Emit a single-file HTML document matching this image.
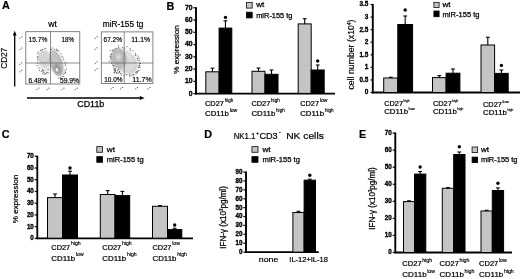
<!DOCTYPE html><html><head><meta charset="utf-8"><title>figure</title>
<style>html,body{margin:0;padding:0;background:#fff}svg{display:block;opacity:0.999;font-family:'Liberation Sans', sans-serif}</style></head><body>
<svg width="520" height="279" viewBox="0 0 520 279">
<defs><filter id="b1" x="-30%" y="-30%" width="160%" height="160%"><feGaussianBlur stdDeviation="1.6"/></filter><filter id="b2" x="-30%" y="-30%" width="160%" height="160%"><feGaussianBlur stdDeviation="0.9"/></filter><filter id="b3" x="-30%" y="-30%" width="160%" height="160%"><feGaussianBlur stdDeviation="0.45"/></filter></defs>
<rect width="520" height="279" fill="#fff"/>
<text x="2.1" y="9.4" font-size="10.8" font-weight="bold" text-anchor="start" fill="#000" stroke="#000" stroke-width="0.2" >A</text>
<text x="166.6" y="9.5" font-size="10.8" font-weight="bold" text-anchor="start" fill="#000" stroke="#000" stroke-width="0.2" >B</text>
<text x="1.8" y="138.4" font-size="10.8" font-weight="bold" text-anchor="start" fill="#000" stroke="#000" stroke-width="0.2" >C</text>
<text x="204.3" y="138.4" font-size="10.8" font-weight="bold" text-anchor="start" fill="#000" stroke="#000" stroke-width="0.2" >D</text>
<text x="359" y="138.4" font-size="10.8" font-weight="bold" text-anchor="start" fill="#000" stroke="#000" stroke-width="0.2" >E</text>
<ellipse cx="44.4" cy="62" rx="6.6" ry="11.5" transform="rotate(-6 44.4 62)" fill="#ececec" filter="url(#b2)"/>
<ellipse cx="56.4" cy="63.3" rx="6.6" ry="13.6" transform="rotate(-17 56.4 63.3)" fill="#e4e4e4" filter="url(#b2)"/>
<ellipse cx="44.6" cy="59.5" rx="6.0" ry="8.6" transform="rotate(-8 44.6 59.5)" fill="#d4d4d4" filter="url(#b2)"/>
<ellipse cx="44.3" cy="57.2" rx="5.6" ry="5.6" transform="rotate(0 44.3 57.2)" fill="none" stroke="#b0b0b0" stroke-width="0.5" filter="url(#b3)"/>
<ellipse cx="56.2" cy="63.3" rx="5.4" ry="12.6" transform="rotate(-17 56.2 63.3)" fill="#c4c4c4" filter="url(#b2)"/>
<ellipse cx="56.2" cy="63.3" rx="5.3" ry="12.4" transform="rotate(-17 56.2 63.3)" fill="none" stroke="#8e8e8e" stroke-width="0.7" filter="url(#b3)"/>
<ellipse cx="56.6" cy="65.0" rx="3.8" ry="9.2" transform="rotate(-17 56.6 65.0)" fill="none" stroke="#a8a8a8" stroke-width="0.5" filter="url(#b3)"/>
<ellipse cx="57.4" cy="68.6" rx="3.3" ry="5.6" transform="rotate(-17 57.4 68.6)" fill="#969696" filter="url(#b2)"/>
<ellipse cx="57.0" cy="69.8" rx="1.1" ry="1.9" transform="rotate(-17 57.0 69.8)" fill="#ffffff" filter="url(#b3)"/>
<path d="M47.7 72.9h.9M45.9 73.4h.9M44.7 74.0h.9M43.7 74.1h.9M42.3 73.3h.9M41.0 71.5h.9M38.9 70.6h.9M38.6 68.2h.9M36.7 65.7h.9M36.9 63.0h.9M37.2 59.8h.9M37.0 57.6h.9M37.4 56.8h.9M37.2 53.5h.9M38.3 52.1h.9M40.0 50.4h.9M41.4 50.2h.9M42.1 49.5h.9M44.3 48.8h.9M45.4 48.8h.9M49.8 51.8h.9M50.5 49.5h.9M51.1 49.4h.9M52.3 48.0h.9M54.1 49.4h.9M55.7 50.3h.9M56.2 49.1h.9M57.2 50.4h.9M58.4 51.0h.9M60.6 53.9h.9M61.6 56.3h.9M62.7 57.7h.9M63.3 59.7h.9M64.8 62.4h.9M64.8 63.9h.9M65.1 65.3h.9M65.8 69.2h.9M64.6 70.8h.9M65.0 72.4h.9M64.4 73.2h.9M63.3 74.2h.9M63.4 76.6h.9M61.9 76.4h.9M61.0 78.5h.9M59.9 77.6h.9M58.1 78.3h.9M46.7 72.5h.9M42.9 70.7h.9M43.5 72.5h.9M47.7 69.6h.9M42.2 69.9h.9M42.6 70.9h.9" stroke="#3a3a3a" stroke-width="0.9" fill="none"/>
<rect x="25.8" y="31.7" width="54.00" height="52.30" fill="none" stroke="#666" stroke-width="0.8"/>
<line x1="50.5" y1="31.7" x2="50.5" y2="84.0" stroke="#666" stroke-width="0.75"/>
<line x1="25.8" y1="63.0" x2="79.8" y2="63.0" stroke="#666" stroke-width="0.75"/>
<path d="M19.2 38.3h1.2M21.0 36.8h1.3" stroke="#666" stroke-width="1" fill="none"/>
<path d="M19.2 49.6h1.2M21.0 48.1h1.3" stroke="#666" stroke-width="1" fill="none"/>
<path d="M19.2 64.3h1.2M21.0 62.8h1.3" stroke="#666" stroke-width="1" fill="none"/>
<path d="M19.2 71.8h1.2M21.0 70.3h1.3" stroke="#666" stroke-width="1" fill="none"/>
<path d="M36.2 89.6h1.2M38.0 88.2h1.3" stroke="#666" stroke-width="1" fill="none"/>
<path d="M46.5 89.6h1.2M48.3 88.2h1.3" stroke="#666" stroke-width="1" fill="none"/>
<path d="M61.4 89.6h1.2M63.2 88.2h1.3" stroke="#666" stroke-width="1" fill="none"/>
<path d="M74.9 89.6h1.2M76.7 88.2h1.3" stroke="#666" stroke-width="1" fill="none"/>
<text x="28.5" y="42.0" font-size="7.8" font-weight="normal" text-anchor="start" fill="#000" stroke="#000" stroke-width="0.2" textLength="18.8" lengthAdjust="spacingAndGlyphs" >15.7%</text>
<text x="61.5" y="42.0" font-size="7.8" font-weight="normal" text-anchor="start" fill="#000" stroke="#000" stroke-width="0.2" textLength="12.4" lengthAdjust="spacingAndGlyphs" >18%</text>
<text x="28.4" y="82.7" font-size="7.8" font-weight="normal" text-anchor="start" fill="#000" stroke="#000" stroke-width="0.2" textLength="18.8" lengthAdjust="spacingAndGlyphs" >6.48%</text>
<text x="59.9" y="82.7" font-size="7.8" font-weight="normal" text-anchor="start" fill="#000" stroke="#000" stroke-width="0.2" textLength="19.2" lengthAdjust="spacingAndGlyphs" >59.9%</text>
<ellipse cx="124.2" cy="61.2" rx="15" ry="11.6" transform="rotate(42 124.2 61.2)" fill="#e6e6e6" filter="url(#b2)"/>
<ellipse cx="129.5" cy="65.5" rx="7.6" ry="8.6" transform="rotate(-20 129.5 65.5)" fill="#dadada" filter="url(#b2)"/>
<ellipse cx="118.6" cy="58.4" rx="7.4" ry="9.6" transform="rotate(-12 118.6 58.4)" fill="#bcbcbc" filter="url(#b2)"/>
<ellipse cx="118.6" cy="58.4" rx="7.4" ry="9.6" transform="rotate(-12 118.6 58.4)" fill="none" stroke="#8f8f8f" stroke-width="0.6" filter="url(#b3)"/>
<ellipse cx="118.4" cy="57.4" rx="4.8" ry="6.4" transform="rotate(-12 118.4 57.4)" fill="none" stroke="#a4a4a4" stroke-width="0.5" filter="url(#b3)"/>
<ellipse cx="118.2" cy="56.4" rx="2.3" ry="3.0" transform="rotate(-12 118.2 56.4)" fill="#e2e2e2" filter="url(#b2)"/>
<ellipse cx="126" cy="62" rx="11.5" ry="8.5" transform="rotate(45 126 62)" fill="none" stroke="#aaaaaa" stroke-width="0.45" filter="url(#b3)"/>
<path d="M135.8 71.8h.9M135.5 72.7h.9M133.5 74.6h.9M130.4 76.0h.9M129.1 76.0h.9M126.2 74.5h.9M123.4 75.8h.9M121.1 75.0h.9M120.1 73.6h.9M118.4 73.2h.9M117.1 70.7h.9M114.9 69.0h.9M113.4 66.7h.9M112.4 65.5h.9M110.8 63.3h.9M108.8 61.3h.9M110.2 57.9h.9M109.8 56.4h.9M110.8 54.5h.9M110.1 50.4h.9M112.0 50.3h.9M113.6 50.2h.9M115.3 48.5h.9M118.3 47.8h.9M117.9 45.8h.9M121.9 47.6h.9M124.1 48.2h.9M126.6 46.7h.9M129.6 48.8h.9M130.1 50.0h.9M132.5 50.6h.9M135.1 53.2h.9M135.3 55.5h.9M138.8 58.2h.9M139.3 60.7h.9M139.6 63.0h.9M139.1 63.9h.9M137.8 65.9h.9M138.2 67.5h.9M138.3 70.4h.9M135.4 54.9h.9M137.7 56.2h.9M137.3 58.4h.9M137.1 58.7h.9M137.7 60.4h.9M140.0 63.3h.9M139.0 65.4h.9M139.6 67.0h.9M139.2 67.4h.9M138.2 70.8h.9M136.8 71.4h.9M137.1 72.3h.9M135.7 73.7h.9M132.4 74.3h.9M132.6 75.7h.9M129.4 74.4h.9M113.6 69.2h.9M118.7 72.4h.9M113.8 72.5h.9M119.2 71.7h.9M115.1 71.1h.9M113.7 68.5h.9M119.1 71.6h.9M116.2 73.1h.9M115.6 72.8h.9M118.2 69.5h.9M114.4 69.9h.9M114.4 71.3h.9M114.5 70.5h.9M113.7 73.0h.9M115.1 70.7h.9M116.6 72.9h.9" stroke="#3a3a3a" stroke-width="0.9" fill="none"/>
<rect x="101.3" y="31.9" width="51.60" height="51.50" fill="none" stroke="#666" stroke-width="0.8"/>
<line x1="124.2" y1="31.9" x2="124.2" y2="83.4" stroke="#666" stroke-width="0.75"/>
<line x1="101.3" y1="63.0" x2="152.9" y2="63.0" stroke="#666" stroke-width="0.75"/>
<path d="M94.7 38.3h1.2M96.5 36.8h1.3" stroke="#666" stroke-width="1" fill="none"/>
<path d="M94.7 49.3h1.2M96.5 47.8h1.3" stroke="#666" stroke-width="1" fill="none"/>
<path d="M94.7 63.3h1.2M96.5 61.8h1.3" stroke="#666" stroke-width="1" fill="none"/>
<path d="M94.7 70.3h1.2M96.5 68.8h1.3" stroke="#666" stroke-width="1" fill="none"/>
<path d="M110.6 89.0h1.2M112.4 87.6h1.3" stroke="#666" stroke-width="1" fill="none"/>
<path d="M119.9 89.0h1.2M121.7 87.6h1.3" stroke="#666" stroke-width="1" fill="none"/>
<path d="M135.1 89.0h1.2M136.9 87.6h1.3" stroke="#666" stroke-width="1" fill="none"/>
<path d="M147.6 89.0h1.2M149.4 87.6h1.3" stroke="#666" stroke-width="1" fill="none"/>
<text x="103.5" y="42.0" font-size="7.8" font-weight="normal" text-anchor="start" fill="#000" stroke="#000" stroke-width="0.2" textLength="18.6" lengthAdjust="spacingAndGlyphs" >67.2%</text>
<text x="131.3" y="42.0" font-size="7.8" font-weight="normal" text-anchor="start" fill="#000" stroke="#000" stroke-width="0.2" textLength="18.8" lengthAdjust="spacingAndGlyphs" >11.1%</text>
<text x="104.2" y="82.0" font-size="7.8" font-weight="normal" text-anchor="start" fill="#000" stroke="#000" stroke-width="0.2" textLength="18.3" lengthAdjust="spacingAndGlyphs" >10.0%</text>
<text x="132.3" y="82.0" font-size="7.8" font-weight="normal" text-anchor="start" fill="#000" stroke="#000" stroke-width="0.2" textLength="19.3" lengthAdjust="spacingAndGlyphs" >11.7%</text>
<text x="48.3" y="27.0" font-size="8.6" font-weight="normal" text-anchor="start" fill="#000" stroke="#000" stroke-width="0.2" textLength="8.7" lengthAdjust="spacingAndGlyphs" >wt</text>
<text x="102.8" y="27.0" font-size="8.4" font-weight="normal" text-anchor="start" fill="#000" stroke="#000" stroke-width="0.2" textLength="40.5" lengthAdjust="spacingAndGlyphs" >miR-155 tg</text>
<line x1="14.7" y1="86.5" x2="14.7" y2="34.5" stroke="#000" stroke-width="1.3"/>
<polygon points="14.7,30.8 12.8,35.6 16.6,35.6" fill="#000"/>
<line x1="27" y1="98" x2="141" y2="98" stroke="#000" stroke-width="1.3"/>
<polygon points="144.6,98 139.8,96.1 139.8,99.9" fill="#000"/>
<text transform="translate(6.5,58.3) rotate(-90)" font-size="8.4" font-weight="normal" text-anchor="middle" fill="#000" stroke="#000" stroke-width="0.18" textLength="21" lengthAdjust="spacingAndGlyphs">CD27</text>
<text x="77.3" y="107.1" font-size="8.6" font-weight="normal" text-anchor="start" fill="#000" stroke="#000" stroke-width="0.25" textLength="27" lengthAdjust="spacingAndGlyphs" >CD11b</text>
<line x1="196" y1="7.2" x2="196" y2="94.39999999999999" stroke="#000" stroke-width="1.9"/>
<line x1="195.2" y1="93.6" x2="335" y2="93.6" stroke="#000" stroke-width="1.9"/>
<line x1="193.4" y1="93.6" x2="196" y2="93.6" stroke="#000" stroke-width="1.2"/>
<text x="192.5" y="95.5" font-size="7.2" font-weight="bold" text-anchor="end" fill="#000" stroke="#000" stroke-width="0.35" textLength="3.8" lengthAdjust="spacingAndGlyphs" >0</text>
<line x1="193.4" y1="81.34285714285714" x2="196" y2="81.34285714285714" stroke="#000" stroke-width="1.2"/>
<text x="192.5" y="83.24285714285715" font-size="7.2" font-weight="bold" text-anchor="end" fill="#000" stroke="#000" stroke-width="0.35" textLength="7.6" lengthAdjust="spacingAndGlyphs" >10</text>
<line x1="193.4" y1="69.08571428571429" x2="196" y2="69.08571428571429" stroke="#000" stroke-width="1.2"/>
<text x="192.5" y="70.9857142857143" font-size="7.2" font-weight="bold" text-anchor="end" fill="#000" stroke="#000" stroke-width="0.35" textLength="7.6" lengthAdjust="spacingAndGlyphs" >20</text>
<line x1="193.4" y1="56.82857142857143" x2="196" y2="56.82857142857143" stroke="#000" stroke-width="1.2"/>
<text x="192.5" y="58.72857142857143" font-size="7.2" font-weight="bold" text-anchor="end" fill="#000" stroke="#000" stroke-width="0.35" textLength="7.6" lengthAdjust="spacingAndGlyphs" >30</text>
<line x1="193.4" y1="44.57142857142857" x2="196" y2="44.57142857142857" stroke="#000" stroke-width="1.2"/>
<text x="192.5" y="46.47142857142857" font-size="7.2" font-weight="bold" text-anchor="end" fill="#000" stroke="#000" stroke-width="0.35" textLength="7.6" lengthAdjust="spacingAndGlyphs" >40</text>
<line x1="193.4" y1="32.31428571428571" x2="196" y2="32.31428571428571" stroke="#000" stroke-width="1.2"/>
<text x="192.5" y="34.21428571428571" font-size="7.2" font-weight="bold" text-anchor="end" fill="#000" stroke="#000" stroke-width="0.35" textLength="7.6" lengthAdjust="spacingAndGlyphs" >50</text>
<line x1="193.4" y1="20.057142857142864" x2="196" y2="20.057142857142864" stroke="#000" stroke-width="1.2"/>
<text x="192.5" y="21.957142857142863" font-size="7.2" font-weight="bold" text-anchor="end" fill="#000" stroke="#000" stroke-width="0.35" textLength="7.6" lengthAdjust="spacingAndGlyphs" >60</text>
<line x1="193.4" y1="7.799999999999997" x2="196" y2="7.799999999999997" stroke="#000" stroke-width="1.2"/>
<text x="192.5" y="9.699999999999998" font-size="7.2" font-weight="bold" text-anchor="end" fill="#000" stroke="#000" stroke-width="0.35" textLength="7.6" lengthAdjust="spacingAndGlyphs" >70</text>
<rect x="205.8" y="71.8" width="13.30" height="21.60" fill="#c4c4c4" stroke="#000" stroke-width="1.0"/>
<line x1="212.45" y1="71.8" x2="212.45" y2="68.2" stroke="#000" stroke-width="1.1"/>
<line x1="210.54999999999998" y1="68.2" x2="214.35" y2="68.2" stroke="#000" stroke-width="1.1"/>
<rect x="219.1" y="28.1" width="12.70" height="65.30" fill="#000" stroke="#000" stroke-width="1.0"/>
<line x1="225.45" y1="28.1" x2="225.45" y2="20.8" stroke="#000" stroke-width="1.1"/>
<line x1="223.54999999999998" y1="20.8" x2="227.35" y2="20.8" stroke="#000" stroke-width="1.1"/>
<circle cx="225.45" cy="17.4" r="1.7" fill="#000"/>
<rect x="252" y="71.3" width="13.00" height="22.10" fill="#c4c4c4" stroke="#000" stroke-width="1.0"/>
<line x1="258.5" y1="71.3" x2="258.5" y2="68" stroke="#000" stroke-width="1.1"/>
<line x1="256.6" y1="68" x2="260.4" y2="68" stroke="#000" stroke-width="1.1"/>
<rect x="265" y="74.3" width="13.00" height="19.10" fill="#000" stroke="#000" stroke-width="1.0"/>
<line x1="271.5" y1="74.3" x2="271.5" y2="70" stroke="#000" stroke-width="1.1"/>
<line x1="269.6" y1="70" x2="273.4" y2="70" stroke="#000" stroke-width="1.1"/>
<rect x="298.2" y="23.9" width="13.00" height="69.50" fill="#c4c4c4" stroke="#000" stroke-width="1.0"/>
<line x1="304.7" y1="23.9" x2="304.7" y2="18.7" stroke="#000" stroke-width="1.1"/>
<line x1="302.8" y1="18.7" x2="306.59999999999997" y2="18.7" stroke="#000" stroke-width="1.1"/>
<rect x="311.2" y="70" width="13.00" height="23.40" fill="#000" stroke="#000" stroke-width="1.0"/>
<line x1="317.7" y1="70" x2="317.7" y2="65" stroke="#000" stroke-width="1.1"/>
<line x1="315.8" y1="65" x2="319.59999999999997" y2="65" stroke="#000" stroke-width="1.1"/>
<circle cx="317.7" cy="61" r="1.7" fill="#000"/>
<rect x="246.5" y="2.4000000000000004" width="5.70" height="5.70" fill="#c4c4c4" stroke="#222" stroke-width="0.9"/>
<rect x="246.5" y="12.2" width="5.70" height="5.70" fill="#000" stroke="#000" stroke-width="0.8"/>
<text x="256.2" y="7.3999999999999995" font-size="7.5" font-weight="normal" text-anchor="start" fill="#000" stroke="#000" stroke-width="0.25" textLength="8.1" lengthAdjust="spacingAndGlyphs" >wt</text>
<text x="256.2" y="17.7" font-size="7.5" font-weight="normal" text-anchor="start" fill="#000" stroke="#000" stroke-width="0.25" textLength="36.3" lengthAdjust="spacingAndGlyphs" >miR-155 tg</text>
<text transform="translate(179.4,49.5) rotate(-90)" font-size="7.9" font-weight="normal" text-anchor="middle" fill="#000" stroke="#000" stroke-width="0.22" textLength="48.5" lengthAdjust="spacingAndGlyphs">% expression</text>
<text x="205" y="106.1" font-size="7.3" font-weight="normal" text-anchor="start" fill="#000" stroke="#000" stroke-width="0.22" textLength="18.9" lengthAdjust="spacingAndGlyphs" >CD27</text>
<text x="224.70000000000002" y="101.8" font-size="4.5" font-weight="normal" text-anchor="start" fill="#000" stroke="#000" stroke-width="0.15" textLength="8.6" lengthAdjust="spacingAndGlyphs" >high</text>
<text x="205" y="116.4" font-size="7.3" font-weight="normal" text-anchor="start" fill="#000" stroke="#000" stroke-width="0.22" textLength="23.9" lengthAdjust="spacingAndGlyphs" >CD11b</text>
<text x="229.70000000000002" y="112.10000000000001" font-size="4.5" font-weight="normal" text-anchor="start" fill="#000" stroke="#000" stroke-width="0.15" textLength="7.6" lengthAdjust="spacingAndGlyphs" >low</text>
<text x="251.4" y="106.1" font-size="7.3" font-weight="normal" text-anchor="start" fill="#000" stroke="#000" stroke-width="0.22" textLength="18.9" lengthAdjust="spacingAndGlyphs" >CD27</text>
<text x="271.1" y="101.8" font-size="4.5" font-weight="normal" text-anchor="start" fill="#000" stroke="#000" stroke-width="0.15" textLength="8.6" lengthAdjust="spacingAndGlyphs" >high</text>
<text x="251.4" y="116.4" font-size="7.3" font-weight="normal" text-anchor="start" fill="#000" stroke="#000" stroke-width="0.22" textLength="23.9" lengthAdjust="spacingAndGlyphs" >CD11b</text>
<text x="276.1" y="112.10000000000001" font-size="4.5" font-weight="normal" text-anchor="start" fill="#000" stroke="#000" stroke-width="0.15" textLength="8.6" lengthAdjust="spacingAndGlyphs" >high</text>
<text x="300.2" y="106.1" font-size="7.3" font-weight="normal" text-anchor="start" fill="#000" stroke="#000" stroke-width="0.22" textLength="18.9" lengthAdjust="spacingAndGlyphs" >CD27</text>
<text x="319.9" y="101.8" font-size="4.5" font-weight="normal" text-anchor="start" fill="#000" stroke="#000" stroke-width="0.15" textLength="7.6" lengthAdjust="spacingAndGlyphs" >low</text>
<text x="300.2" y="116.4" font-size="7.3" font-weight="normal" text-anchor="start" fill="#000" stroke="#000" stroke-width="0.22" textLength="23.9" lengthAdjust="spacingAndGlyphs" >CD11b</text>
<text x="324.9" y="112.10000000000001" font-size="4.5" font-weight="normal" text-anchor="start" fill="#000" stroke="#000" stroke-width="0.15" textLength="8.6" lengthAdjust="spacingAndGlyphs" >high</text>
<line x1="372.8" y1="3.9" x2="372.8" y2="93.3" stroke="#000" stroke-width="1.9"/>
<line x1="372.0" y1="92.5" x2="520" y2="92.5" stroke="#000" stroke-width="1.9"/>
<line x1="370.6" y1="92.5" x2="372.8" y2="92.5" stroke="#000" stroke-width="1.2"/>
<text x="368.3" y="94.4" font-size="7" font-weight="bold" text-anchor="end" fill="#000" stroke="#000" stroke-width="0.35" textLength="3.6" lengthAdjust="spacingAndGlyphs" >0</text>
<line x1="370.6" y1="79.92857142857143" x2="372.8" y2="79.92857142857143" stroke="#000" stroke-width="1.2"/>
<text x="368.3" y="81.82857142857144" font-size="7" font-weight="bold" text-anchor="end" fill="#000" stroke="#000" stroke-width="0.35" textLength="8.89" lengthAdjust="spacingAndGlyphs" >0.5</text>
<line x1="370.6" y1="67.35714285714286" x2="372.8" y2="67.35714285714286" stroke="#000" stroke-width="1.2"/>
<text x="368.3" y="69.25714285714287" font-size="7" font-weight="bold" text-anchor="end" fill="#000" stroke="#000" stroke-width="0.35" textLength="3.6" lengthAdjust="spacingAndGlyphs" >1</text>
<line x1="370.6" y1="54.785714285714285" x2="372.8" y2="54.785714285714285" stroke="#000" stroke-width="1.2"/>
<text x="368.3" y="56.68571428571428" font-size="7" font-weight="bold" text-anchor="end" fill="#000" stroke="#000" stroke-width="0.35" textLength="8.89" lengthAdjust="spacingAndGlyphs" >1.5</text>
<line x1="370.6" y1="42.214285714285715" x2="372.8" y2="42.214285714285715" stroke="#000" stroke-width="1.2"/>
<text x="368.3" y="44.114285714285714" font-size="7" font-weight="bold" text-anchor="end" fill="#000" stroke="#000" stroke-width="0.35" textLength="3.6" lengthAdjust="spacingAndGlyphs" >2</text>
<line x1="370.6" y1="29.642857142857146" x2="372.8" y2="29.642857142857146" stroke="#000" stroke-width="1.2"/>
<text x="368.3" y="31.542857142857144" font-size="7" font-weight="bold" text-anchor="end" fill="#000" stroke="#000" stroke-width="0.35" textLength="8.89" lengthAdjust="spacingAndGlyphs" >2.5</text>
<line x1="370.6" y1="17.07142857142857" x2="372.8" y2="17.07142857142857" stroke="#000" stroke-width="1.2"/>
<text x="368.3" y="18.971428571428568" font-size="7" font-weight="bold" text-anchor="end" fill="#000" stroke="#000" stroke-width="0.35" textLength="3.6" lengthAdjust="spacingAndGlyphs" >3</text>
<line x1="370.6" y1="4.5" x2="372.8" y2="4.5" stroke="#000" stroke-width="1.2"/>
<text x="368.3" y="6.4" font-size="7" font-weight="bold" text-anchor="end" fill="#000" stroke="#000" stroke-width="0.35" textLength="8.89" lengthAdjust="spacingAndGlyphs" >3.5</text>
<rect x="383.7" y="78" width="14.10" height="14.50" fill="#c4c4c4" stroke="#000" stroke-width="1.0"/>
<line x1="390.75" y1="78" x2="390.75" y2="77.2" stroke="#000" stroke-width="1.1"/>
<line x1="388.85" y1="77.2" x2="392.65" y2="77.2" stroke="#000" stroke-width="1.1"/>
<rect x="397.8" y="24.5" width="14.80" height="68.00" fill="#000" stroke="#000" stroke-width="1.0"/>
<line x1="405.20000000000005" y1="24.5" x2="405.20000000000005" y2="16" stroke="#000" stroke-width="1.1"/>
<line x1="403.30000000000007" y1="16" x2="407.1" y2="16" stroke="#000" stroke-width="1.1"/>
<circle cx="405.20000000000005" cy="10" r="1.7" fill="#000"/>
<rect x="432.5" y="77.6" width="13.60" height="14.90" fill="#c4c4c4" stroke="#000" stroke-width="1.0"/>
<line x1="439.3" y1="77.6" x2="439.3" y2="75.6" stroke="#000" stroke-width="1.1"/>
<line x1="437.40000000000003" y1="75.6" x2="441.2" y2="75.6" stroke="#000" stroke-width="1.1"/>
<rect x="446.1" y="73.2" width="13.80" height="19.30" fill="#000" stroke="#000" stroke-width="1.0"/>
<line x1="453.0" y1="73.2" x2="453.0" y2="69" stroke="#000" stroke-width="1.1"/>
<line x1="451.1" y1="69" x2="454.9" y2="69" stroke="#000" stroke-width="1.1"/>
<rect x="481" y="45" width="13.60" height="47.50" fill="#c4c4c4" stroke="#000" stroke-width="1.0"/>
<line x1="487.8" y1="45" x2="487.8" y2="37.3" stroke="#000" stroke-width="1.1"/>
<line x1="485.90000000000003" y1="37.3" x2="489.7" y2="37.3" stroke="#000" stroke-width="1.1"/>
<rect x="494.6" y="73.4" width="13.60" height="19.10" fill="#000" stroke="#000" stroke-width="1.0"/>
<line x1="501.4" y1="73.4" x2="501.4" y2="70" stroke="#000" stroke-width="1.1"/>
<line x1="499.5" y1="70" x2="503.29999999999995" y2="70" stroke="#000" stroke-width="1.1"/>
<circle cx="501.4" cy="65.4" r="1.7" fill="#000"/>
<rect x="433.90000000000003" y="2.4000000000000004" width="5.20" height="5.10" fill="#c4c4c4" stroke="#222" stroke-width="0.9"/>
<rect x="433.90000000000003" y="11.0" width="5.20" height="5.70" fill="#000" stroke="#000" stroke-width="0.8"/>
<text x="442.5" y="6.8" font-size="7.5" font-weight="normal" text-anchor="start" fill="#000" stroke="#000" stroke-width="0.25" textLength="8.1" lengthAdjust="spacingAndGlyphs" >wt</text>
<text x="442.5" y="16.5" font-size="7.5" font-weight="normal" text-anchor="start" fill="#000" stroke="#000" stroke-width="0.25" textLength="37" lengthAdjust="spacingAndGlyphs" >miR-155 tg</text>
<text transform="translate(354.1,54.6) rotate(-90)" font-size="8.6" font-weight="normal" text-anchor="middle" fill="#000" stroke="#000" stroke-width="0.18" textLength="70" lengthAdjust="spacingAndGlyphs">cell number (x10<tspan font-size="4.5" dy="-3">4</tspan><tspan dy="3">)</tspan></text>
<text x="384.2" y="105.9" font-size="7.5" font-weight="normal" text-anchor="start" fill="#000" stroke="#000" stroke-width="0.22" textLength="18.9" lengthAdjust="spacingAndGlyphs" >CD27</text>
<text x="403.59999999999997" y="101.9" font-size="3.4" font-weight="normal" text-anchor="start" fill="#000" stroke="#000" stroke-width="0.15" textLength="6.0" lengthAdjust="spacingAndGlyphs" >high</text>
<text x="384.2" y="114.3" font-size="7.5" font-weight="normal" text-anchor="start" fill="#000" stroke="#000" stroke-width="0.22" textLength="23.9" lengthAdjust="spacingAndGlyphs" >CD11b</text>
<text x="408.59999999999997" y="110.3" font-size="3.4" font-weight="normal" text-anchor="start" fill="#000" stroke="#000" stroke-width="0.15" textLength="6.3" lengthAdjust="spacingAndGlyphs" >low</text>
<text x="432.9" y="105.9" font-size="7.5" font-weight="normal" text-anchor="start" fill="#000" stroke="#000" stroke-width="0.22" textLength="18.9" lengthAdjust="spacingAndGlyphs" >CD27</text>
<text x="452.29999999999995" y="101.9" font-size="3.4" font-weight="normal" text-anchor="start" fill="#000" stroke="#000" stroke-width="0.15" textLength="6.0" lengthAdjust="spacingAndGlyphs" >high</text>
<text x="432.9" y="114.3" font-size="7.5" font-weight="normal" text-anchor="start" fill="#000" stroke="#000" stroke-width="0.22" textLength="23.9" lengthAdjust="spacingAndGlyphs" >CD11b</text>
<text x="457.29999999999995" y="110.3" font-size="3.4" font-weight="normal" text-anchor="start" fill="#000" stroke="#000" stroke-width="0.15" textLength="6.0" lengthAdjust="spacingAndGlyphs" >high</text>
<text x="483" y="106.7" font-size="7.5" font-weight="normal" text-anchor="start" fill="#000" stroke="#000" stroke-width="0.22" textLength="18.9" lengthAdjust="spacingAndGlyphs" >CD27</text>
<text x="502.4" y="102.7" font-size="3.4" font-weight="normal" text-anchor="start" fill="#000" stroke="#000" stroke-width="0.15" textLength="6.3" lengthAdjust="spacingAndGlyphs" >low</text>
<text x="483" y="115.2" font-size="7.5" font-weight="normal" text-anchor="start" fill="#000" stroke="#000" stroke-width="0.22" textLength="23.9" lengthAdjust="spacingAndGlyphs" >CD11b</text>
<text x="507.4" y="111.2" font-size="3.4" font-weight="normal" text-anchor="start" fill="#000" stroke="#000" stroke-width="0.15" textLength="6.0" lengthAdjust="spacingAndGlyphs" >high</text>
<line x1="37.3" y1="155.70000000000002" x2="37.3" y2="239.20000000000002" stroke="#000" stroke-width="1.8"/>
<line x1="36.5" y1="238.4" x2="193" y2="238.4" stroke="#000" stroke-width="1.8"/>
<line x1="34.699999999999996" y1="238.4" x2="37.3" y2="238.4" stroke="#000" stroke-width="1.2"/>
<text x="33.8" y="240.3" font-size="6.8" font-weight="bold" text-anchor="end" fill="#000" stroke="#000" stroke-width="0.35" textLength="3.45" lengthAdjust="spacingAndGlyphs" >0</text>
<line x1="34.699999999999996" y1="226.67142857142858" x2="37.3" y2="226.67142857142858" stroke="#000" stroke-width="1.2"/>
<text x="33.8" y="228.57142857142858" font-size="6.8" font-weight="bold" text-anchor="end" fill="#000" stroke="#000" stroke-width="0.35" textLength="6.9" lengthAdjust="spacingAndGlyphs" >10</text>
<line x1="34.699999999999996" y1="214.94285714285715" x2="37.3" y2="214.94285714285715" stroke="#000" stroke-width="1.2"/>
<text x="33.8" y="216.84285714285716" font-size="6.8" font-weight="bold" text-anchor="end" fill="#000" stroke="#000" stroke-width="0.35" textLength="6.9" lengthAdjust="spacingAndGlyphs" >20</text>
<line x1="34.699999999999996" y1="203.21428571428572" x2="37.3" y2="203.21428571428572" stroke="#000" stroke-width="1.2"/>
<text x="33.8" y="205.11428571428573" font-size="6.8" font-weight="bold" text-anchor="end" fill="#000" stroke="#000" stroke-width="0.35" textLength="6.9" lengthAdjust="spacingAndGlyphs" >30</text>
<line x1="34.699999999999996" y1="191.4857142857143" x2="37.3" y2="191.4857142857143" stroke="#000" stroke-width="1.2"/>
<text x="33.8" y="193.3857142857143" font-size="6.8" font-weight="bold" text-anchor="end" fill="#000" stroke="#000" stroke-width="0.35" textLength="6.9" lengthAdjust="spacingAndGlyphs" >40</text>
<line x1="34.699999999999996" y1="179.75714285714287" x2="37.3" y2="179.75714285714287" stroke="#000" stroke-width="1.2"/>
<text x="33.8" y="181.65714285714287" font-size="6.8" font-weight="bold" text-anchor="end" fill="#000" stroke="#000" stroke-width="0.35" textLength="6.9" lengthAdjust="spacingAndGlyphs" >50</text>
<line x1="34.699999999999996" y1="168.02857142857144" x2="37.3" y2="168.02857142857144" stroke="#000" stroke-width="1.2"/>
<text x="33.8" y="169.92857142857144" font-size="6.8" font-weight="bold" text-anchor="end" fill="#000" stroke="#000" stroke-width="0.35" textLength="6.9" lengthAdjust="spacingAndGlyphs" >60</text>
<line x1="34.699999999999996" y1="156.3" x2="37.3" y2="156.3" stroke="#000" stroke-width="1.2"/>
<text x="33.8" y="158.20000000000002" font-size="6.8" font-weight="bold" text-anchor="end" fill="#000" stroke="#000" stroke-width="0.35" textLength="6.9" lengthAdjust="spacingAndGlyphs" >70</text>
<rect x="47.5" y="197.6" width="15.00" height="40.60" fill="#c4c4c4" stroke="#000" stroke-width="1.0"/>
<line x1="55.0" y1="197.6" x2="55.0" y2="194" stroke="#000" stroke-width="1.1"/>
<line x1="53.1" y1="194" x2="56.9" y2="194" stroke="#000" stroke-width="1.1"/>
<rect x="62.5" y="175" width="15.00" height="63.20" fill="#000" stroke="#000" stroke-width="1.0"/>
<line x1="70.0" y1="175" x2="70.0" y2="171.2" stroke="#000" stroke-width="1.1"/>
<line x1="68.1" y1="171.2" x2="71.9" y2="171.2" stroke="#000" stroke-width="1.1"/>
<circle cx="70.0" cy="168" r="1.7" fill="#000"/>
<rect x="100.3" y="194.5" width="14.70" height="43.70" fill="#c4c4c4" stroke="#000" stroke-width="1.0"/>
<line x1="107.65" y1="194.5" x2="107.65" y2="190.6" stroke="#000" stroke-width="1.1"/>
<line x1="105.75" y1="190.6" x2="109.55000000000001" y2="190.6" stroke="#000" stroke-width="1.1"/>
<rect x="115" y="195.6" width="14.70" height="42.60" fill="#000" stroke="#000" stroke-width="1.0"/>
<line x1="122.35" y1="195.6" x2="122.35" y2="191.4" stroke="#000" stroke-width="1.1"/>
<line x1="120.44999999999999" y1="191.4" x2="124.25" y2="191.4" stroke="#000" stroke-width="1.1"/>
<rect x="152.5" y="206.3" width="15.00" height="31.90" fill="#c4c4c4" stroke="#000" stroke-width="1.0"/>
<line x1="160.0" y1="206.3" x2="160.0" y2="205.6" stroke="#000" stroke-width="1.1"/>
<line x1="158.1" y1="205.6" x2="161.9" y2="205.6" stroke="#000" stroke-width="1.1"/>
<rect x="167.5" y="229.6" width="14.30" height="8.60" fill="#000" stroke="#000" stroke-width="1.0"/>
<line x1="174.65" y1="229.6" x2="174.65" y2="228.2" stroke="#000" stroke-width="1.1"/>
<line x1="172.75" y1="228.2" x2="176.55" y2="228.2" stroke="#000" stroke-width="1.1"/>
<circle cx="174.65" cy="225" r="1.7" fill="#000"/>
<rect x="96.8" y="146.6" width="5.70" height="5.70" fill="#c4c4c4" stroke="#222" stroke-width="0.9"/>
<rect x="96.8" y="156.6" width="5.70" height="5.70" fill="#000" stroke="#000" stroke-width="0.8"/>
<text x="106.8" y="151.6" font-size="7.5" font-weight="normal" text-anchor="start" fill="#000" stroke="#000" stroke-width="0.25" textLength="8.1" lengthAdjust="spacingAndGlyphs" >wt</text>
<text x="106.8" y="162.1" font-size="7.5" font-weight="normal" text-anchor="start" fill="#000" stroke="#000" stroke-width="0.25" textLength="36.8" lengthAdjust="spacingAndGlyphs" >miR-155 tg</text>
<text transform="translate(18.2,199) rotate(-90)" font-size="7.9" font-weight="normal" text-anchor="middle" fill="#000" stroke="#000" stroke-width="0.22" textLength="48.5" lengthAdjust="spacingAndGlyphs">% expression</text>
<text x="51.3" y="249.8" font-size="7.3" font-weight="normal" text-anchor="start" fill="#000" stroke="#000" stroke-width="0.22" textLength="18.9" lengthAdjust="spacingAndGlyphs" >CD27</text>
<text x="70.99999999999999" y="245.3" font-size="4.9" font-weight="normal" text-anchor="start" fill="#000" stroke="#000" stroke-width="0.15" textLength="9.7" lengthAdjust="spacingAndGlyphs" >high</text>
<text x="51.3" y="260.6" font-size="7.3" font-weight="normal" text-anchor="start" fill="#000" stroke="#000" stroke-width="0.22" textLength="23.9" lengthAdjust="spacingAndGlyphs" >CD11b</text>
<text x="75.99999999999999" y="256.1" font-size="4.9" font-weight="normal" text-anchor="start" fill="#000" stroke="#000" stroke-width="0.15" textLength="7.6" lengthAdjust="spacingAndGlyphs" >low</text>
<text x="102.3" y="249.8" font-size="7.3" font-weight="normal" text-anchor="start" fill="#000" stroke="#000" stroke-width="0.22" textLength="18.9" lengthAdjust="spacingAndGlyphs" >CD27</text>
<text x="121.99999999999999" y="245.3" font-size="4.9" font-weight="normal" text-anchor="start" fill="#000" stroke="#000" stroke-width="0.15" textLength="9.7" lengthAdjust="spacingAndGlyphs" >high</text>
<text x="102.3" y="260.6" font-size="7.3" font-weight="normal" text-anchor="start" fill="#000" stroke="#000" stroke-width="0.22" textLength="23.9" lengthAdjust="spacingAndGlyphs" >CD11b</text>
<text x="126.99999999999999" y="256.1" font-size="4.9" font-weight="normal" text-anchor="start" fill="#000" stroke="#000" stroke-width="0.15" textLength="9.7" lengthAdjust="spacingAndGlyphs" >high</text>
<text x="152.5" y="249.8" font-size="7.3" font-weight="normal" text-anchor="start" fill="#000" stroke="#000" stroke-width="0.22" textLength="18.9" lengthAdjust="spacingAndGlyphs" >CD27</text>
<text x="172.20000000000002" y="245.3" font-size="4.9" font-weight="normal" text-anchor="start" fill="#000" stroke="#000" stroke-width="0.15" textLength="7.6" lengthAdjust="spacingAndGlyphs" >low</text>
<text x="152.5" y="260.6" font-size="7.3" font-weight="normal" text-anchor="start" fill="#000" stroke="#000" stroke-width="0.22" textLength="23.9" lengthAdjust="spacingAndGlyphs" >CD11b</text>
<text x="177.20000000000002" y="256.1" font-size="4.9" font-weight="normal" text-anchor="start" fill="#000" stroke="#000" stroke-width="0.15" textLength="9.7" lengthAdjust="spacingAndGlyphs" >high</text>
<text x="233.7" y="138.8" font-size="9.6" font-weight="normal" text-anchor="start" fill="#000" stroke="#000" stroke-width="0.2" textLength="21.8" lengthAdjust="spacingAndGlyphs" >NK1.1</text>
<text x="256.2" y="134.6" font-size="5" font-weight="normal" text-anchor="start" fill="#000" stroke="#000" stroke-width="0.2" textLength="2.8" lengthAdjust="spacingAndGlyphs" >+</text>
<text x="259.4" y="138.8" font-size="9.6" font-weight="normal" text-anchor="start" fill="#000" stroke="#000" stroke-width="0.2" textLength="18.2" lengthAdjust="spacingAndGlyphs" >CD3</text>
<text x="278.7" y="134.2" font-size="5.5" font-weight="normal" text-anchor="start" fill="#000" stroke="#000" stroke-width="0.2" textLength="2" lengthAdjust="spacingAndGlyphs" >-</text>
<text x="286.2" y="138.8" font-size="9.6" font-weight="normal" text-anchor="start" fill="#000" stroke="#000" stroke-width="0.2" textLength="37.6" lengthAdjust="spacingAndGlyphs" >NK cells</text>
<line x1="246" y1="171.5" x2="246" y2="252.9" stroke="#000" stroke-width="1.9"/>
<line x1="245.2" y1="252.1" x2="318.8" y2="252.1" stroke="#000" stroke-width="1.9"/>
<line x1="243.4" y1="252.1" x2="246" y2="252.1" stroke="#000" stroke-width="1.2"/>
<text x="242.5" y="254.0" font-size="6.9" font-weight="bold" text-anchor="end" fill="#000" stroke="#000" stroke-width="0.35" textLength="3.5" lengthAdjust="spacingAndGlyphs" >0</text>
<line x1="243.4" y1="243.2111111111111" x2="246" y2="243.2111111111111" stroke="#000" stroke-width="1.2"/>
<text x="242.5" y="245.11111111111111" font-size="6.9" font-weight="bold" text-anchor="end" fill="#000" stroke="#000" stroke-width="0.35" textLength="7.0" lengthAdjust="spacingAndGlyphs" >10</text>
<line x1="243.4" y1="234.32222222222222" x2="246" y2="234.32222222222222" stroke="#000" stroke-width="1.2"/>
<text x="242.5" y="236.22222222222223" font-size="6.9" font-weight="bold" text-anchor="end" fill="#000" stroke="#000" stroke-width="0.35" textLength="7.0" lengthAdjust="spacingAndGlyphs" >20</text>
<line x1="243.4" y1="225.43333333333334" x2="246" y2="225.43333333333334" stroke="#000" stroke-width="1.2"/>
<text x="242.5" y="227.33333333333334" font-size="6.9" font-weight="bold" text-anchor="end" fill="#000" stroke="#000" stroke-width="0.35" textLength="7.0" lengthAdjust="spacingAndGlyphs" >30</text>
<line x1="243.4" y1="216.54444444444442" x2="246" y2="216.54444444444442" stroke="#000" stroke-width="1.2"/>
<text x="242.5" y="218.44444444444443" font-size="6.9" font-weight="bold" text-anchor="end" fill="#000" stroke="#000" stroke-width="0.35" textLength="7.0" lengthAdjust="spacingAndGlyphs" >40</text>
<line x1="243.4" y1="207.65555555555557" x2="246" y2="207.65555555555557" stroke="#000" stroke-width="1.2"/>
<text x="242.5" y="209.55555555555557" font-size="6.9" font-weight="bold" text-anchor="end" fill="#000" stroke="#000" stroke-width="0.35" textLength="7.0" lengthAdjust="spacingAndGlyphs" >50</text>
<line x1="243.4" y1="198.76666666666665" x2="246" y2="198.76666666666665" stroke="#000" stroke-width="1.2"/>
<text x="242.5" y="200.66666666666666" font-size="6.9" font-weight="bold" text-anchor="end" fill="#000" stroke="#000" stroke-width="0.35" textLength="7.0" lengthAdjust="spacingAndGlyphs" >60</text>
<line x1="243.4" y1="189.87777777777777" x2="246" y2="189.87777777777777" stroke="#000" stroke-width="1.2"/>
<text x="242.5" y="191.77777777777777" font-size="6.9" font-weight="bold" text-anchor="end" fill="#000" stroke="#000" stroke-width="0.35" textLength="7.0" lengthAdjust="spacingAndGlyphs" >70</text>
<line x1="243.4" y1="180.98888888888888" x2="246" y2="180.98888888888888" stroke="#000" stroke-width="1.2"/>
<text x="242.5" y="182.88888888888889" font-size="6.9" font-weight="bold" text-anchor="end" fill="#000" stroke="#000" stroke-width="0.35" textLength="7.0" lengthAdjust="spacingAndGlyphs" >80</text>
<line x1="243.4" y1="172.1" x2="246" y2="172.1" stroke="#000" stroke-width="1.2"/>
<text x="242.5" y="174.0" font-size="6.9" font-weight="bold" text-anchor="end" fill="#000" stroke="#000" stroke-width="0.35" textLength="7.0" lengthAdjust="spacingAndGlyphs" >90</text>
<rect x="292.9" y="212.5" width="11.20" height="39.60" fill="#c4c4c4" stroke="#000" stroke-width="1.0"/>
<line x1="298.5" y1="212.5" x2="298.5" y2="211.3" stroke="#000" stroke-width="1.1"/>
<line x1="296.6" y1="211.3" x2="300.4" y2="211.3" stroke="#000" stroke-width="1.1"/>
<rect x="304.1" y="180.2" width="11.40" height="71.90" fill="#000" stroke="#000" stroke-width="1.0"/>
<line x1="309.8" y1="180.2" x2="309.8" y2="179.2" stroke="#000" stroke-width="1.1"/>
<line x1="307.90000000000003" y1="179.2" x2="311.7" y2="179.2" stroke="#000" stroke-width="1.1"/>
<circle cx="309.8" cy="175.2" r="1.7" fill="#000"/>
<rect x="251.9" y="146.6" width="6.10" height="5.70" fill="#c4c4c4" stroke="#222" stroke-width="0.9"/>
<rect x="251.9" y="156.6" width="6.10" height="5.70" fill="#000" stroke="#000" stroke-width="0.8"/>
<text x="262.5" y="151.6" font-size="7.5" font-weight="normal" text-anchor="start" fill="#000" stroke="#000" stroke-width="0.25" textLength="8.1" lengthAdjust="spacingAndGlyphs" >wt</text>
<text x="262.5" y="162.1" font-size="7.5" font-weight="normal" text-anchor="start" fill="#000" stroke="#000" stroke-width="0.25" textLength="37.5" lengthAdjust="spacingAndGlyphs" >miR-155 tg</text>
<text transform="translate(226.3,217.4) rotate(-90)" font-size="8.2" font-weight="normal" text-anchor="middle" fill="#000" stroke="#000" stroke-width="0.25" textLength="62.5" lengthAdjust="spacingAndGlyphs">IFN-&#947; (x10<tspan font-size="4.5" dy="-3">3</tspan><tspan dy="3">pg/ml)</tspan></text>
<text x="258.8" y="261.8" font-size="7.9" font-weight="normal" text-anchor="start" fill="#000" stroke="#000" stroke-width="0.22" textLength="19.6" lengthAdjust="spacingAndGlyphs" >none</text>
<text x="289.3" y="261.8" font-size="7.9" font-weight="normal" text-anchor="start" fill="#000" stroke="#000" stroke-width="0.22" textLength="38.6" lengthAdjust="spacingAndGlyphs" >IL-12+IL-18</text>
<line x1="395.3" y1="132.5" x2="395.3" y2="253.3" stroke="#000" stroke-width="1.9"/>
<line x1="394.5" y1="252.5" x2="512" y2="252.5" stroke="#000" stroke-width="1.9"/>
<line x1="392.7" y1="252.5" x2="395.3" y2="252.5" stroke="#000" stroke-width="1.2"/>
<text x="391.8" y="254.4" font-size="6.9" font-weight="bold" text-anchor="end" fill="#000" stroke="#000" stroke-width="0.35" textLength="3.5" lengthAdjust="spacingAndGlyphs" >0</text>
<line x1="392.7" y1="235.44285714285715" x2="395.3" y2="235.44285714285715" stroke="#000" stroke-width="1.2"/>
<text x="391.8" y="237.34285714285716" font-size="6.9" font-weight="bold" text-anchor="end" fill="#000" stroke="#000" stroke-width="0.35" textLength="7.0" lengthAdjust="spacingAndGlyphs" >10</text>
<line x1="392.7" y1="218.3857142857143" x2="395.3" y2="218.3857142857143" stroke="#000" stroke-width="1.2"/>
<text x="391.8" y="220.2857142857143" font-size="6.9" font-weight="bold" text-anchor="end" fill="#000" stroke="#000" stroke-width="0.35" textLength="7.0" lengthAdjust="spacingAndGlyphs" >20</text>
<line x1="392.7" y1="201.32857142857142" x2="395.3" y2="201.32857142857142" stroke="#000" stroke-width="1.2"/>
<text x="391.8" y="203.22857142857143" font-size="6.9" font-weight="bold" text-anchor="end" fill="#000" stroke="#000" stroke-width="0.35" textLength="7.0" lengthAdjust="spacingAndGlyphs" >30</text>
<line x1="392.7" y1="184.27142857142857" x2="395.3" y2="184.27142857142857" stroke="#000" stroke-width="1.2"/>
<text x="391.8" y="186.17142857142858" font-size="6.9" font-weight="bold" text-anchor="end" fill="#000" stroke="#000" stroke-width="0.35" textLength="7.0" lengthAdjust="spacingAndGlyphs" >40</text>
<line x1="392.7" y1="167.21428571428572" x2="395.3" y2="167.21428571428572" stroke="#000" stroke-width="1.2"/>
<text x="391.8" y="169.11428571428573" font-size="6.9" font-weight="bold" text-anchor="end" fill="#000" stroke="#000" stroke-width="0.35" textLength="7.0" lengthAdjust="spacingAndGlyphs" >50</text>
<line x1="392.7" y1="150.15714285714284" x2="395.3" y2="150.15714285714284" stroke="#000" stroke-width="1.2"/>
<text x="391.8" y="152.05714285714285" font-size="6.9" font-weight="bold" text-anchor="end" fill="#000" stroke="#000" stroke-width="0.35" textLength="7.0" lengthAdjust="spacingAndGlyphs" >60</text>
<line x1="392.7" y1="133.1" x2="395.3" y2="133.1" stroke="#000" stroke-width="1.2"/>
<text x="391.8" y="135.0" font-size="6.9" font-weight="bold" text-anchor="end" fill="#000" stroke="#000" stroke-width="0.35" textLength="7.0" lengthAdjust="spacingAndGlyphs" >70</text>
<rect x="403.5" y="201.6" width="11.00" height="50.90" fill="#c4c4c4" stroke="#000" stroke-width="1.0"/>
<line x1="409.0" y1="201.6" x2="409.0" y2="200.8" stroke="#000" stroke-width="1.1"/>
<line x1="407.1" y1="200.8" x2="410.9" y2="200.8" stroke="#000" stroke-width="1.1"/>
<rect x="414.5" y="174.1" width="11.30" height="78.40" fill="#000" stroke="#000" stroke-width="1.0"/>
<line x1="420.15" y1="174.1" x2="420.15" y2="171.5" stroke="#000" stroke-width="1.1"/>
<line x1="418.25" y1="171.5" x2="422.04999999999995" y2="171.5" stroke="#000" stroke-width="1.1"/>
<circle cx="420.15" cy="167" r="1.7" fill="#000"/>
<rect x="442.3" y="188.3" width="11.40" height="64.20" fill="#c4c4c4" stroke="#000" stroke-width="1.0"/>
<line x1="448.0" y1="188.3" x2="448.0" y2="187.6" stroke="#000" stroke-width="1.1"/>
<line x1="446.1" y1="187.6" x2="449.9" y2="187.6" stroke="#000" stroke-width="1.1"/>
<rect x="453.7" y="154.5" width="11.30" height="98.00" fill="#000" stroke="#000" stroke-width="1.0"/>
<line x1="459.35" y1="154.5" x2="459.35" y2="152" stroke="#000" stroke-width="1.1"/>
<line x1="457.45000000000005" y1="152" x2="461.25" y2="152" stroke="#000" stroke-width="1.1"/>
<circle cx="459.35" cy="146.7" r="1.7" fill="#000"/>
<rect x="481" y="211" width="11.30" height="41.50" fill="#c4c4c4" stroke="#000" stroke-width="1.0"/>
<line x1="486.65" y1="211" x2="486.65" y2="210.3" stroke="#000" stroke-width="1.1"/>
<line x1="484.75" y1="210.3" x2="488.54999999999995" y2="210.3" stroke="#000" stroke-width="1.1"/>
<rect x="492.3" y="190.5" width="11.30" height="62.00" fill="#000" stroke="#000" stroke-width="1.0"/>
<line x1="497.95000000000005" y1="190.5" x2="497.95000000000005" y2="187.9" stroke="#000" stroke-width="1.1"/>
<line x1="496.05000000000007" y1="187.9" x2="499.85" y2="187.9" stroke="#000" stroke-width="1.1"/>
<circle cx="497.95000000000005" cy="183.2" r="1.7" fill="#000"/>
<rect x="472.1" y="147.0" width="5.50" height="5.50" fill="#c4c4c4" stroke="#222" stroke-width="0.9"/>
<rect x="472.1" y="157.1" width="5.50" height="5.50" fill="#000" stroke="#000" stroke-width="0.8"/>
<text x="481" y="151.79999999999998" font-size="7.5" font-weight="normal" text-anchor="start" fill="#000" stroke="#000" stroke-width="0.25" textLength="8.1" lengthAdjust="spacingAndGlyphs" >wt</text>
<text x="481" y="162.39999999999998" font-size="7.5" font-weight="normal" text-anchor="start" fill="#000" stroke="#000" stroke-width="0.25" textLength="36.5" lengthAdjust="spacingAndGlyphs" >miR-155 tg</text>
<text transform="translate(374.7,198.5) rotate(-90)" font-size="8.2" font-weight="normal" text-anchor="middle" fill="#000" stroke="#000" stroke-width="0.25" textLength="62.5" lengthAdjust="spacingAndGlyphs">IFN-&#947; (x10<tspan font-size="4.5" dy="-3">3</tspan><tspan dy="3">pg/ml)</tspan></text>
<text x="402.3" y="266.2" font-size="7.3" font-weight="normal" text-anchor="start" fill="#000" stroke="#000" stroke-width="0.22" textLength="19.3" lengthAdjust="spacingAndGlyphs" >CD27</text>
<text x="422.20000000000005" y="262.09999999999997" font-size="4.9" font-weight="normal" text-anchor="start" fill="#000" stroke="#000" stroke-width="0.15" textLength="9.9" lengthAdjust="spacingAndGlyphs" >high</text>
<text x="402.3" y="277.1" font-size="7.3" font-weight="normal" text-anchor="start" fill="#000" stroke="#000" stroke-width="0.22" textLength="24.3" lengthAdjust="spacingAndGlyphs" >CD11b</text>
<text x="427.20000000000005" y="273.0" font-size="4.9" font-weight="normal" text-anchor="start" fill="#000" stroke="#000" stroke-width="0.15" textLength="7.7" lengthAdjust="spacingAndGlyphs" >low</text>
<text x="439.6" y="266.2" font-size="7.3" font-weight="normal" text-anchor="start" fill="#000" stroke="#000" stroke-width="0.22" textLength="19.3" lengthAdjust="spacingAndGlyphs" >CD27</text>
<text x="459.50000000000006" y="262.09999999999997" font-size="4.9" font-weight="normal" text-anchor="start" fill="#000" stroke="#000" stroke-width="0.15" textLength="9.9" lengthAdjust="spacingAndGlyphs" >high</text>
<text x="439.6" y="277.1" font-size="7.3" font-weight="normal" text-anchor="start" fill="#000" stroke="#000" stroke-width="0.22" textLength="24.3" lengthAdjust="spacingAndGlyphs" >CD11b</text>
<text x="464.50000000000006" y="273.0" font-size="4.9" font-weight="normal" text-anchor="start" fill="#000" stroke="#000" stroke-width="0.15" textLength="9.9" lengthAdjust="spacingAndGlyphs" >high</text>
<text x="479" y="266.2" font-size="7.3" font-weight="normal" text-anchor="start" fill="#000" stroke="#000" stroke-width="0.22" textLength="19.3" lengthAdjust="spacingAndGlyphs" >CD27</text>
<text x="498.90000000000003" y="262.09999999999997" font-size="4.9" font-weight="normal" text-anchor="start" fill="#000" stroke="#000" stroke-width="0.15" textLength="7.7" lengthAdjust="spacingAndGlyphs" >low</text>
<text x="479" y="277.1" font-size="7.3" font-weight="normal" text-anchor="start" fill="#000" stroke="#000" stroke-width="0.22" textLength="24.3" lengthAdjust="spacingAndGlyphs" >CD11b</text>
<text x="503.90000000000003" y="273.0" font-size="4.9" font-weight="normal" text-anchor="start" fill="#000" stroke="#000" stroke-width="0.15" textLength="9.9" lengthAdjust="spacingAndGlyphs" >high</text>
</svg></body></html>
